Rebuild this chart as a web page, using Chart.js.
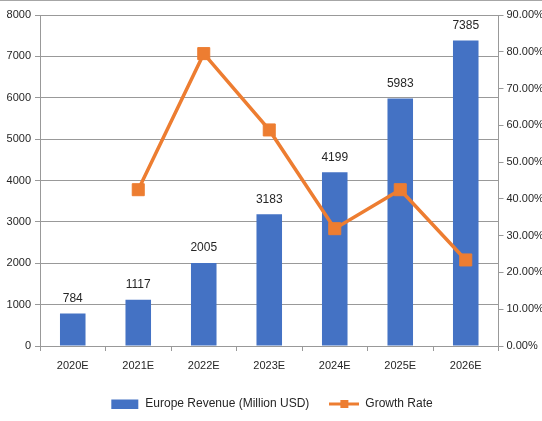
<!DOCTYPE html>
<html>
<head>
<meta charset="utf-8">
<script src="https://cdn.jsdelivr.net/npm/chart.js@4.4.1/dist/chart.umd.min.js"></script>
<style>
  html, body { margin: 0; padding: 0; background: #fff; }
  .wrap { position: relative; width: 542px; height: 421px; border-top: 1px solid #a6a6a6; box-sizing: border-box; }
  canvas { display: block; }
</style>
</head>
<body>
<div class="wrap"><canvas id="chart" width="542" height="420"></canvas></div>
<script>
const years = ["2020E", "2021E", "2022E", "2023E", "2024E", "2025E", "2026E"];
const revenue = [784, 1117, 2005, 3183, 4199, 5983, 7385];
const growth = [null, 0.425, 0.795, 0.5875, 0.319, 0.425, 0.234];

const blue = "#4472c4";
const orange = "#ed7d31";
const gridGray = "#999999";
const textColor = "#262626";
const font = { family: "'Liberation Sans', Arial, sans-serif", size: 11 };
const bigFont = { family: "'Liberation Sans', Arial, sans-serif", size: 12 };

function legendIcon(kind) {
  const c = document.createElement("canvas");
  c.width = 30;
  c.height = 12;
  const ctx = c.getContext("2d");
  if (kind === "bar") {
    ctx.fillStyle = blue;
    ctx.fillRect(2, 1.5, 27, 9.5);
  } else {
    ctx.strokeStyle = orange;
    ctx.lineWidth = 3;
    ctx.beginPath();
    ctx.moveTo(0, 6);
    ctx.lineTo(30, 6);
    ctx.stroke();
    ctx.fillStyle = orange;
    ctx.fillRect(11, 2, 8, 8);
  }
  return c;
}

// value labels above the revenue bars
const barLabels = {
  id: "barLabels",
  afterDatasetsDraw(chart) {
    const meta = chart.getDatasetMeta(1);
    const ctx = chart.ctx;
    ctx.save();
    ctx.font = `${bigFont.size}px ${bigFont.family}`;
    ctx.fillStyle = textColor;
    ctx.textAlign = "center";
    ctx.textBaseline = "middle";
    meta.data.forEach((bar, i) => {
      ctx.fillText(String(revenue[i]), bar.x, bar.y - 15);
    });
    ctx.restore();
  }
};

new Chart(document.querySelector("#chart"), {
  data: {
    labels: years,
    datasets: [
      {
        type: "line",
        label: "Growth Rate",
        data: growth,
        yAxisID: "y2",
        borderColor: orange,
        backgroundColor: orange,
        borderWidth: 3.5,
        pointStyle: "rect",
        pointRadius: 8.5,
        pointBorderWidth: 1,
        pointBackgroundColor: orange,
        pointBorderColor: orange,
        tension: 0,
        order: 0
      },
      {
        type: "bar",
        label: "Europe Revenue (Million USD)",
        data: revenue,
        yAxisID: "y",
        backgroundColor: blue,
        barPercentage: 0.39,
        categoryPercentage: 1,
        order: 1
      }
    ]
  },
  options: {
    responsive: false,
    animation: false,
    layout: { padding: { top: 14, bottom: 1, left: 0, right: 0 } },
    plugins: {
      tooltip: { enabled: false },
      legend: {
        position: "bottom",
        labels: {
          color: textColor,
          font: bigFont,
          usePointStyle: true,
          pointStyleWidth: 30,
          boxHeight: 12,
          padding: 20,
          generateLabels: () => [
            { text: "Europe Revenue (Million USD)", pointStyle: legendIcon("bar"), fontColor: textColor, datasetIndex: 1, lineWidth: 0 },
            { text: "Growth Rate", pointStyle: legendIcon("line"), fontColor: textColor, datasetIndex: 0, lineWidth: 0 }
          ]
        }
      }
    },
    scales: {
      x: {
        ticks: { color: textColor, font, padding: 8 },
        grid: { display: true, drawOnChartArea: false, offset: true, tickLength: 5, color: gridGray },
        border: { color: gridGray },
        afterFit: (scale) => { scale.height = 32; }
      },
      y: {
        position: "left",
        min: 0,
        max: 8000,
        ticks: { stepSize: 1000, color: textColor, font, padding: 4, callback: (value) => String(value) },
        grid: { color: gridGray, tickLength: 5 },
        border: { color: gridGray },
        afterFit: (scale) => { scale.width = 40; }
      },
      y2: {
        position: "right",
        min: 0,
        max: 0.9,
        ticks: {
          stepSize: 0.1,
          color: textColor,
          font,
          padding: 3,
          callback: (value) => `${(value * 100).toFixed(2)}%`
        },
        grid: { drawOnChartArea: false, color: gridGray, tickLength: 5 },
        border: { color: gridGray },
        afterFit: (scale) => { scale.width = 43.5; }
      }
    }
  },
  plugins: [barLabels]
});
</script>
</body>
</html>
